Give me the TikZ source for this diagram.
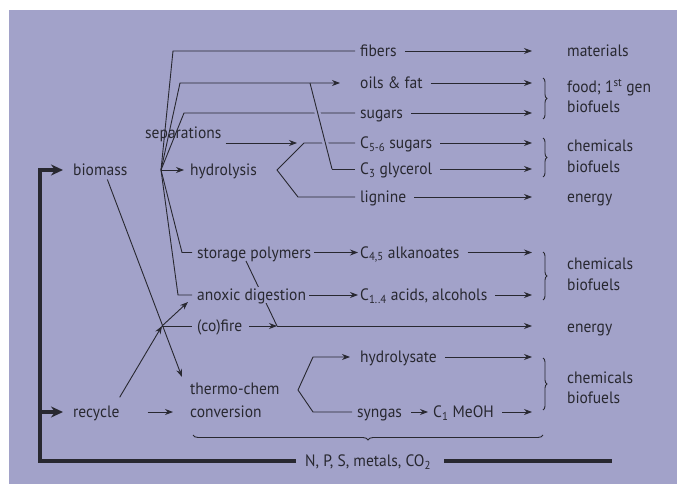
\documentclass[tikz,border=0pt]{standalone}
\usepackage{fontspec}
\setmainfont[FakeStretch=0.94]{PT Sans}
\usepackage{tikz}
\definecolor{bgc}{RGB}{162,162,201}
\definecolor{ink}{RGB}{40,40,48}
\usetikzlibrary{arrows.meta}
\usetikzlibrary{decorations.pathreplacing}
\tikzset{
	txt/.style={anchor=west,inner sep=0pt,text height=12pt,text depth=1pt,text=ink},
	mask/.style={txt,fill=bgc,inner ysep=1.5pt},
	link/.style={ink,line width=0.9pt},
	feed/.style={link,shorten >=5pt},
	arr/.style={link,->},
	hop/.style={link,preaction={draw=bgc,line width=6pt,shorten <=6pt,shorten >=6pt}},
	thickline/.style={ink,line width=4.5pt},
	thickarr/.style={thickline,-{Stealth[length=12pt,width=11pt]}},
	brc/.style={link,decorate,decoration={brace,amplitude=4pt}},
	>={Stealth[length=8pt,width=6pt]},
	}

\begin{document}
\begin{tikzpicture}[x=1pt,y=-1pt,font=\fontsize{16.5}{19}\selectfont]
 \fill[white] (0,0) rectangle (677,484);
 \fill[bgc] (9,10) rectangle (677,484);
 \useasboundingbox (0,0) rectangle (677,484);

\node[txt] (bm) at (73,170) {biomass};
\node[txt] (rec) at (73,412) {recycle};
\node[txt] (sep) at (145,133) {separations};
\node[txt] (hyd) at (190,170) {hydrolysis};
\node[txt] (stor) at (197,252.5) {storage polymers};
\node[txt] (fire) at (197,326) {(co)fire};
\node[txt] (thermo) at (190,389) {thermo-chem};
\node[txt] (conv) at (190,412) {conversion};

\node[txt] (fib) at (360,51) {fibers};
\node[txt] (oil) at (360,83) {oils \& fat};
\node[txt] (sug) at (360,113) {sugars};
\node[txt] (cfive) at (360,143) {C\textsubscript{5-6} sugars};
\node[txt] (cthree) at (360,169) {C\textsubscript{3} glycerol};
\node[txt] (lig) at (360,197) {lignine};
\node[txt] (cfour) at (360,252.5) {C\textsubscript{4,5} alkanoates};
\node[txt] (acid) at (360,295) {C\textsubscript{1..4} acids, alcohols};
\node[txt] (hydr) at (360,357) {hydrolysate};
\node[txt] (syn) at (357,412) {syngas};
\node[txt] (meoh) at (433,412) {C\textsubscript{1} MeOH};
\node[txt] (nps) at (305,461) {N, P, S, metals, CO\textsubscript{2}};

\foreach \y/\nm/\lbl in {51/mat/materials,87/foodA/{food; 1\textsuperscript{st} gen},107/bioA/biofuels,
  146/chemA/chemicals,167/bioB/biofuels,197/enA/energy,264/chemB/chemicals,285/bioC/biofuels,
  327/enB/energy,378/chemC/chemicals,398/bioD/biofuels}
  \node[txt] (\nm) at (567,\y) {\lbl};

\coordinate (tip) at (532,0);
\foreach \src in {fib,oil,sug,cfive,cthree,lig,cfour,acid,hydr,meoh}
  \draw[arr,shorten <=8pt] (\src.east) -- (\src.east -| tip);

% separations fan
\coordinate (hub) at (161,170);
\coordinate (kfib) at (173,51);
\coordinate (koil) at (180,83);
\coordinate (ksug) at (184,113);
\coordinate (toil) at (340,83);
\coordinate (ksto) at (182,252.5);
\coordinate (kano) at (178,295);
\draw[feed] (hub) -- (kfib) -- (fib.west);
\draw[arr] (hub) -- (koil) -- (toil);
\draw[feed] (hub) -- (ksug) -- (sug.west);
\draw[arr,shorten >=6pt] (hub) -- (hyd.west);
\draw[feed] (hub) -- (ksto) -- (stor.west);

% hydrolysis
\coordinate (hapex) at (277,170);
\coordinate (hup) at (304,143);
\coordinate (hlow) at (298,197);
\coordinate (tsep) at (297,143);
\draw[link,shorten <=5pt,shorten >=5pt] (cfive.west) -- (hup) -- (hapex) -- (hlow) -- (lig.west);
\draw[arr,shorten <=4pt] ([yshift=-10pt]sep.east) -- (tsep);
\coordinate (doil) at (310,83);
\coordinate (dgly) at (332,169);
\draw[hop] (doil) -- (dgly);
\draw[feed] (dgly) -- (cthree.west);

% biomass and recycle
\coordinate (tbm) at (182,377);
\coordinate (jfire) at (162,326);
\coordinate (tano) at (188,302);
\coordinate (tfire) at (277,326);
\coordinate (sdia) at (246,261);
\draw[arr,shorten <=3pt] ([xshift=6pt]bm.south) -- (tbm);
\draw[arr] ([yshift=8pt]rec.north east) -- (jfire);
\draw[arr] (jfire) -- (tano);
\draw[feed] (jfire) -- (fire.west);
\draw[link] (sdia) -- (tfire);
\node[mask] (anox) at (197,295) {anoxic digestion};
\draw[feed] (hub) -- (kano) -- (anox.west);
\draw[arr,shorten <=7pt] (fire.east) -- (tfire);
\draw[arr] (tfire) -- (tfire -| tip);
\draw[arr,shorten <=3pt,shorten >=2pt] (stor.east) -- (cfour.west);
\draw[arr,shorten <=3pt,shorten >=2pt] (anox.east) -- (acid.west);
\draw[arr,shorten <=28pt,shorten >=17pt] (rec.east) -- (conv.west);

% thermo-chem
\coordinate (tapex) at (298,390);
\coordinate (tup) at (313,357);
\coordinate (tlow) at (313,412);
\draw[arr,shorten >=10pt] (tapex) -- (tup) -- (hydr.west);
\draw[feed] (tapex) -- (tlow) -- (syn.west);
\draw[arr,shorten <=9pt,shorten >=5pt] (syn.east) -- (meoh.west);

\foreach \a/\b in {78/119,138/177,252/300,358/410}
  \draw[brc] (543,\a) -- (543,\b);
\draw[brc,decoration={amplitude=5pt}] (543,435) -- (193,435);

% nutrient loop
\coordinate (kbl) at (40,461);
\coordinate (kbr) at (612,461);
\draw[thickarr,shorten <=9pt,shorten >=10pt] (nps.west) -- (nps.west -| kbl) -- (kbl |- bm.west) -- (bm.west);
\draw[thickarr,shorten >=10pt] (kbl |- rec.west) -- (rec.west);
\draw[thickline,shorten <=13pt] (nps.east) -- (kbr);
\end{tikzpicture}
\end{document}
